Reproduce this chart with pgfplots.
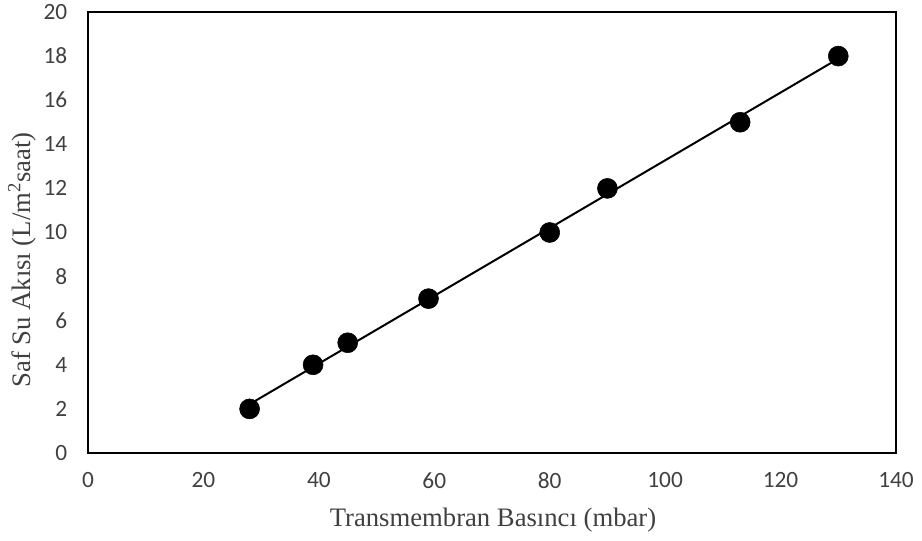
\documentclass[border=0pt]{standalone}
\usepackage{fontspec}
\setmainfont{Liberation Serif}
\newfontfamily\tickfont{Carlito}
\usepackage{pgfplots}
\pgfplotsset{compat=1.18}
\definecolor{txtgray}{HTML}{404040}

\begin{document}
\begin{tikzpicture}
\begin{axis}[
  at={(0,0)}, anchor=south west,
  scale only axis,
  width=606pt, height=330.75pt,
  xmin=0, xmax=140, ymin=0, ymax=20,
  xtick={0,20,...,140}, ytick={0,2,...,20},
  major tick length=0pt,
  axis line style={line width=1pt},
  tick label style={font=\tickfont\fontsize{17.5}{20}\selectfont, text=txtgray},
  /pgf/number format/assume math mode=true,
  xticklabel style={yshift=-11pt},
  yticklabel style={xshift=-12pt},
  clip=false,
]
% linear trendline
\addplot[black, line width=1.5pt, no marks] coordinates {
(28,2.212) (130,17.882)
};
\addplot[only marks, black, mark=*, mark size=7.5pt, mark options={fill=black}]
coordinates {
(28,2) (39,4) (45,5) (59,7) (80,10) (90,12) (113,15) (130,18)
};
\end{axis}
\node[font=\fontsize{20}{24}\selectfont, text=txtgray] at (303.75pt,-50pt) {Transmembran Basıncı (mbar)};
\node[rotate=90, font=\fontsize{20}{24}\selectfont, text=txtgray] at (-49.5pt,144.75pt) {Saf Su Akısı (L/m\textsuperscript{2}saat)};
\pgfresetboundingbox
\path (-66pt,-66pt) rectangle (625.5pt,339.75pt);
\end{tikzpicture}
\end{document}
